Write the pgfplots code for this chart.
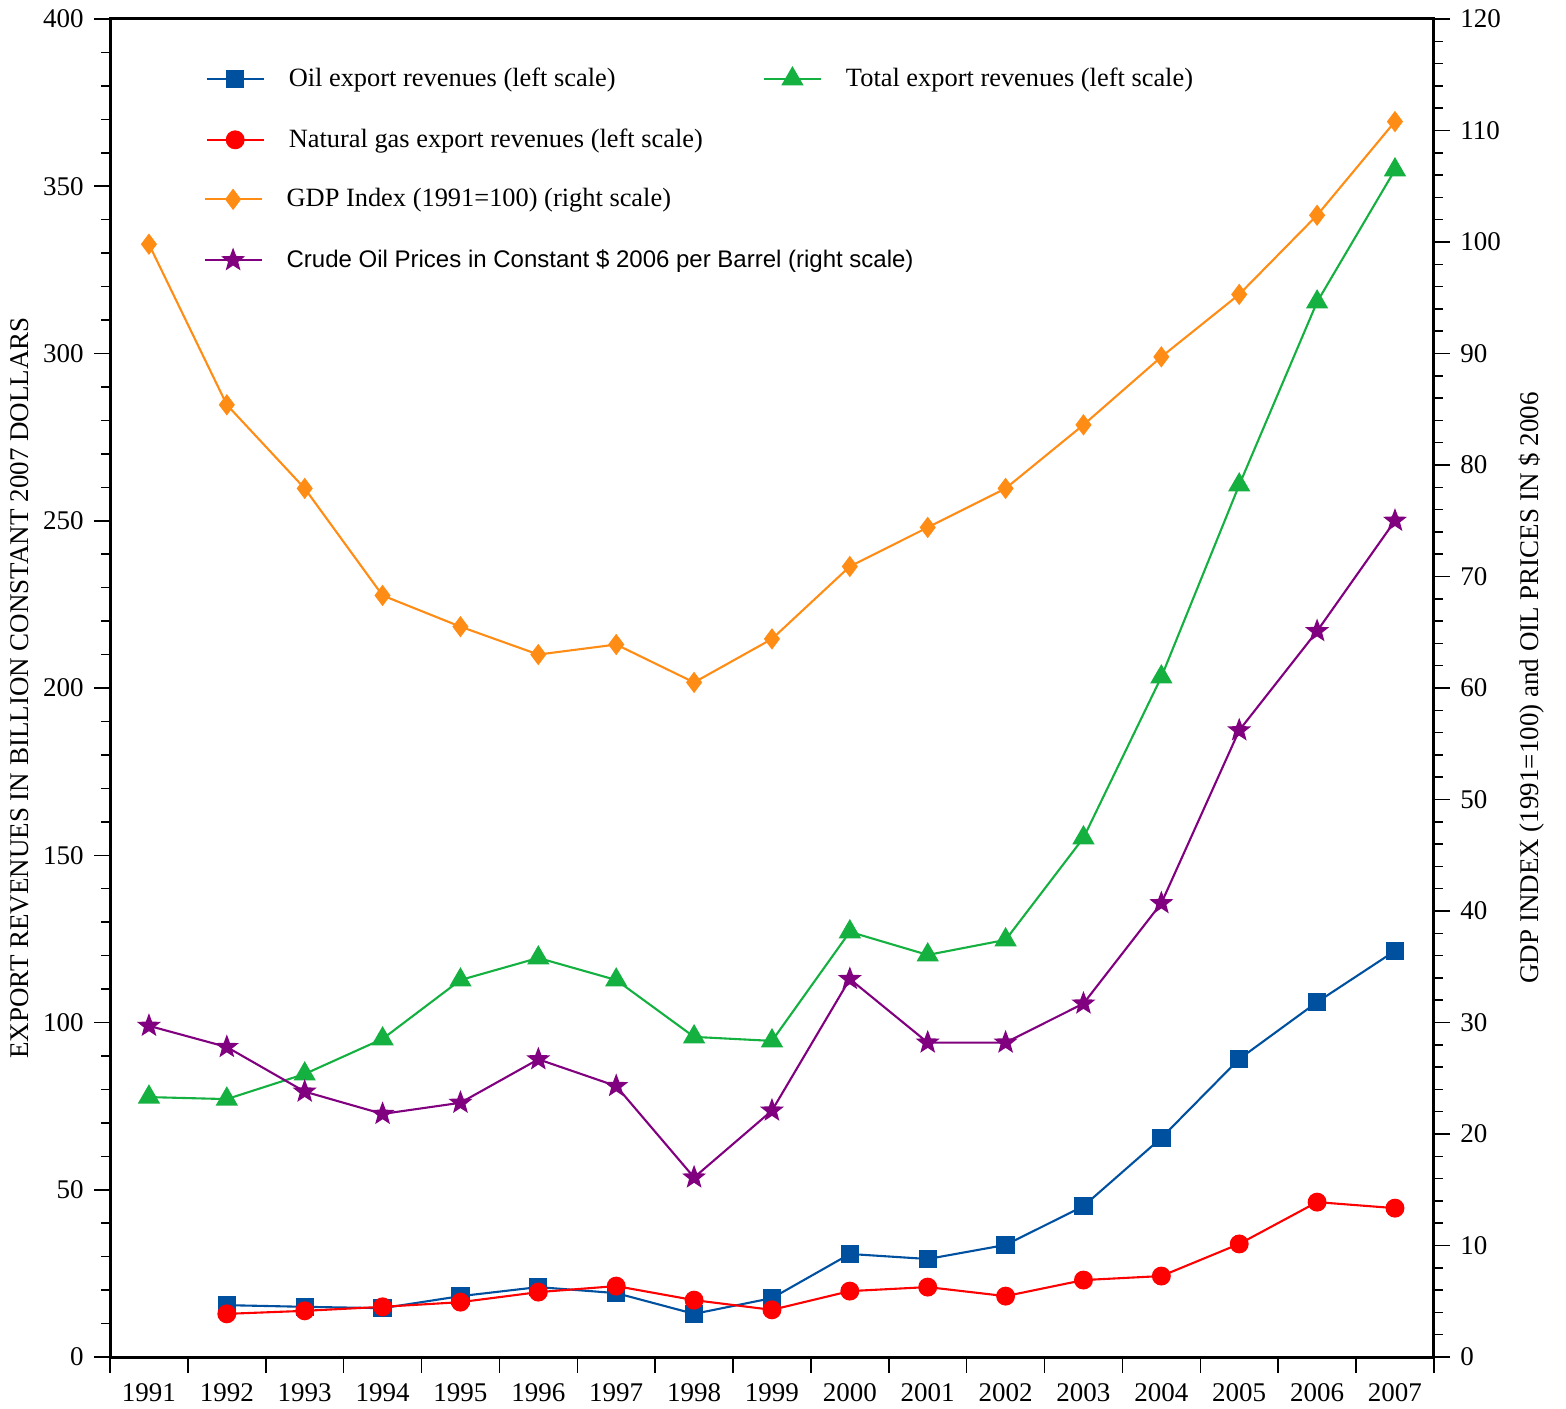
\documentclass[border=0pt]{standalone}
\usepackage{fontspec}
\setmainfont{Liberation Serif}
\setsansfont{Liberation Sans}
\usepackage{pgfplots}
\pgfplotsset{compat=1.18}
\definecolor{oilc}{RGB}{0,80,160}
\definecolor{totc}{RGB}{20,176,64}
\definecolor{gasc}{RGB}{255,0,0}
\definecolor{gdpc}{RGB}{255,140,20}
\definecolor{crc}{RGB}{128,0,128}
\pgfdeclareplotmark{fstar}{%
  \pgfpathmoveto{\pgfpointpolar{90}{\pgfplotmarksize}}%
  \pgfpathlineto{\pgfpointpolar{126}{0.42\pgfplotmarksize}}%
  \pgfpathlineto{\pgfpointpolar{162}{\pgfplotmarksize}}%
  \pgfpathlineto{\pgfpointpolar{198}{0.42\pgfplotmarksize}}%
  \pgfpathlineto{\pgfpointpolar{234}{\pgfplotmarksize}}%
  \pgfpathlineto{\pgfpointpolar{270}{0.42\pgfplotmarksize}}%
  \pgfpathlineto{\pgfpointpolar{306}{\pgfplotmarksize}}%
  \pgfpathlineto{\pgfpointpolar{342}{0.42\pgfplotmarksize}}%
  \pgfpathlineto{\pgfpointpolar{18}{\pgfplotmarksize}}%
  \pgfpathlineto{\pgfpointpolar{54}{0.42\pgfplotmarksize}}%
  \pgfpathclose
  \pgfusepathqfillstroke}
\pgfplotsset{
  base/.style={
    scale only axis, width=441.3pt, height=446pt,
    xmin=-0.5, xmax=16.5,
    tick align=outside,
    major tick length=5.3pt, minor tick length=3pt,
    every tick/.style={black, line width=0.5pt},
    axis line style={line width=1pt},
    /pgf/number format/assume math mode=true,
    ticklabel style={font=\fontsize{9}{11}\selectfont},
    label style={font=\fontsize{9}{11}\selectfont},
    legend image code/.code={\draw[mark repeat=2,mark phase=2] plot coordinates {(0pt,0pt) (9.5pt,0pt) (19pt,0pt)};},
    legend style={draw=none, fill=none, font=\fontsize{8.8}{11}\selectfont, inner sep=0pt, row sep=9.3pt,
      nodes={inner sep=1pt, text height=7pt, text depth=2pt}, cells={anchor=west}},
  },
  lineplot/.style={line width=0.7pt},
}
\begin{document}
\begin{tikzpicture}
\begin{axis}[base,
  ymin=0, ymax=400, ytick={0,50,...,400}, minor y tick num=4,
  ytick pos=left, xtick pos=bottom,
  xtick={-0.5,0.5,...,16.5}, xticklabels={},
  extra x ticks={0,...,16},
  extra x tick labels={1991,1992,1993,1994,1995,1996,1997,1998,1999,2000,2001,2002,2003,2004,2005,2006,2007},
  extra x tick style={tick style={draw=none}},
  ylabel={EXPORT REVENUES IN BILLION CONSTANT 2007 DOLLARS},
  ylabel shift=-2.3pt,
  legend columns=2,
  legend style={at={(rel axis cs:0.0718,0.968)}, anchor=north west,
    /tikz/column 2/.style={column sep=19pt},
    /tikz/column 1/.style={column sep=7pt},
    /tikz/column 3/.style={column sep=7pt}},
]
\addplot[lineplot, color=oilc, mark=square*, mark size=2.7pt, mark options={solid, fill=oilc}] coordinates {
(1,15.5)(2,15.0)(3,14.6)(4,18.2)(5,20.9)(6,19.1)(7,12.9)(8,17.6)(9,30.8)(10,29.3)(11,33.5)(12,45.1)(13,65.5)(14,89.1)(15,106.1)(16,121.4)};
\addlegendentry{Oil export revenues (left scale)}
\addplot[lineplot, color=totc, mark=triangle*, mark size=3.6pt, mark options={solid, fill=totc}] coordinates {
(0,77.7)(1,77.1)(2,84.6)(3,95.1)(4,112.7)(5,119.3)(6,112.7)(7,95.7)(8,94.5)(9,127.1)(10,120.2)(11,124.7)(12,155.2)(13,203.3)(14,260.7)(15,315.4)(16,354.9)};
\addlegendentry{Total export revenues (left scale)}
\addplot[lineplot, color=gasc, mark=*, mark size=2.8pt, mark options={solid, fill=gasc}] coordinates {
(1,12.9)(2,13.8)(3,15.0)(4,16.4)(5,19.4)(6,21.2)(7,17.0)(8,14.1)(9,19.7)(10,20.9)(11,18.2)(12,23.0)(13,24.2)(14,33.8)(15,46.3)(16,44.5)};
\addlegendentry{Natural gas export revenues (left scale)}
\end{axis}
\begin{axis}[base,
  ymin=0, ymax=120, ytick={0,10,...,120}, minor y tick num=4,
  axis y line*=right, axis x line=none,
  ylabel={GDP INDEX (1991=100) and OIL PRICES IN \$ 2006},
  ylabel shift=-1pt,
  legend style={at={(rel axis cs:0.0702,0.878)}, anchor=north west,
    /tikz/column 1/.style={column sep=7pt}},
]
\addplot[lineplot, color=gdpc, mark=diamond*, mark size=3pt, mark options={solid, fill=gdpc}] coordinates {
(0,99.8)(1,85.4)(2,77.9)(3,68.3)(4,65.5)(5,63.0)(6,63.9)(7,60.5)(8,64.4)(9,70.9)(10,74.4)(11,77.9)(12,83.6)(13,89.7)(14,95.3)(15,102.4)(16,110.8)};
\addlegendentry{GDP Index (1991=100) (right scale)}
\addplot[lineplot, color=crc, mark=fstar, mark size=3.2pt, mark options={solid, fill=crc}] coordinates {
(0,29.7)(1,27.8)(2,23.8)(3,21.8)(4,22.8)(5,26.7)(6,24.3)(7,16.1)(8,22.1)(9,33.9)(10,28.2)(11,28.2)(12,31.7)(13,40.7)(14,56.2)(15,65.1)(16,75.0)};
\addlegendentry{\sffamily\fontsize{8}{10}\selectfont Crude Oil Prices in Constant \$ 2006 per Barrel (right scale)}
\end{axis}
\pgfresetboundingbox
\path[use as bounding box] (-36.67pt,-17.33pt) rectangle (485.33pt,452.33pt);
\end{tikzpicture}
\end{document}
